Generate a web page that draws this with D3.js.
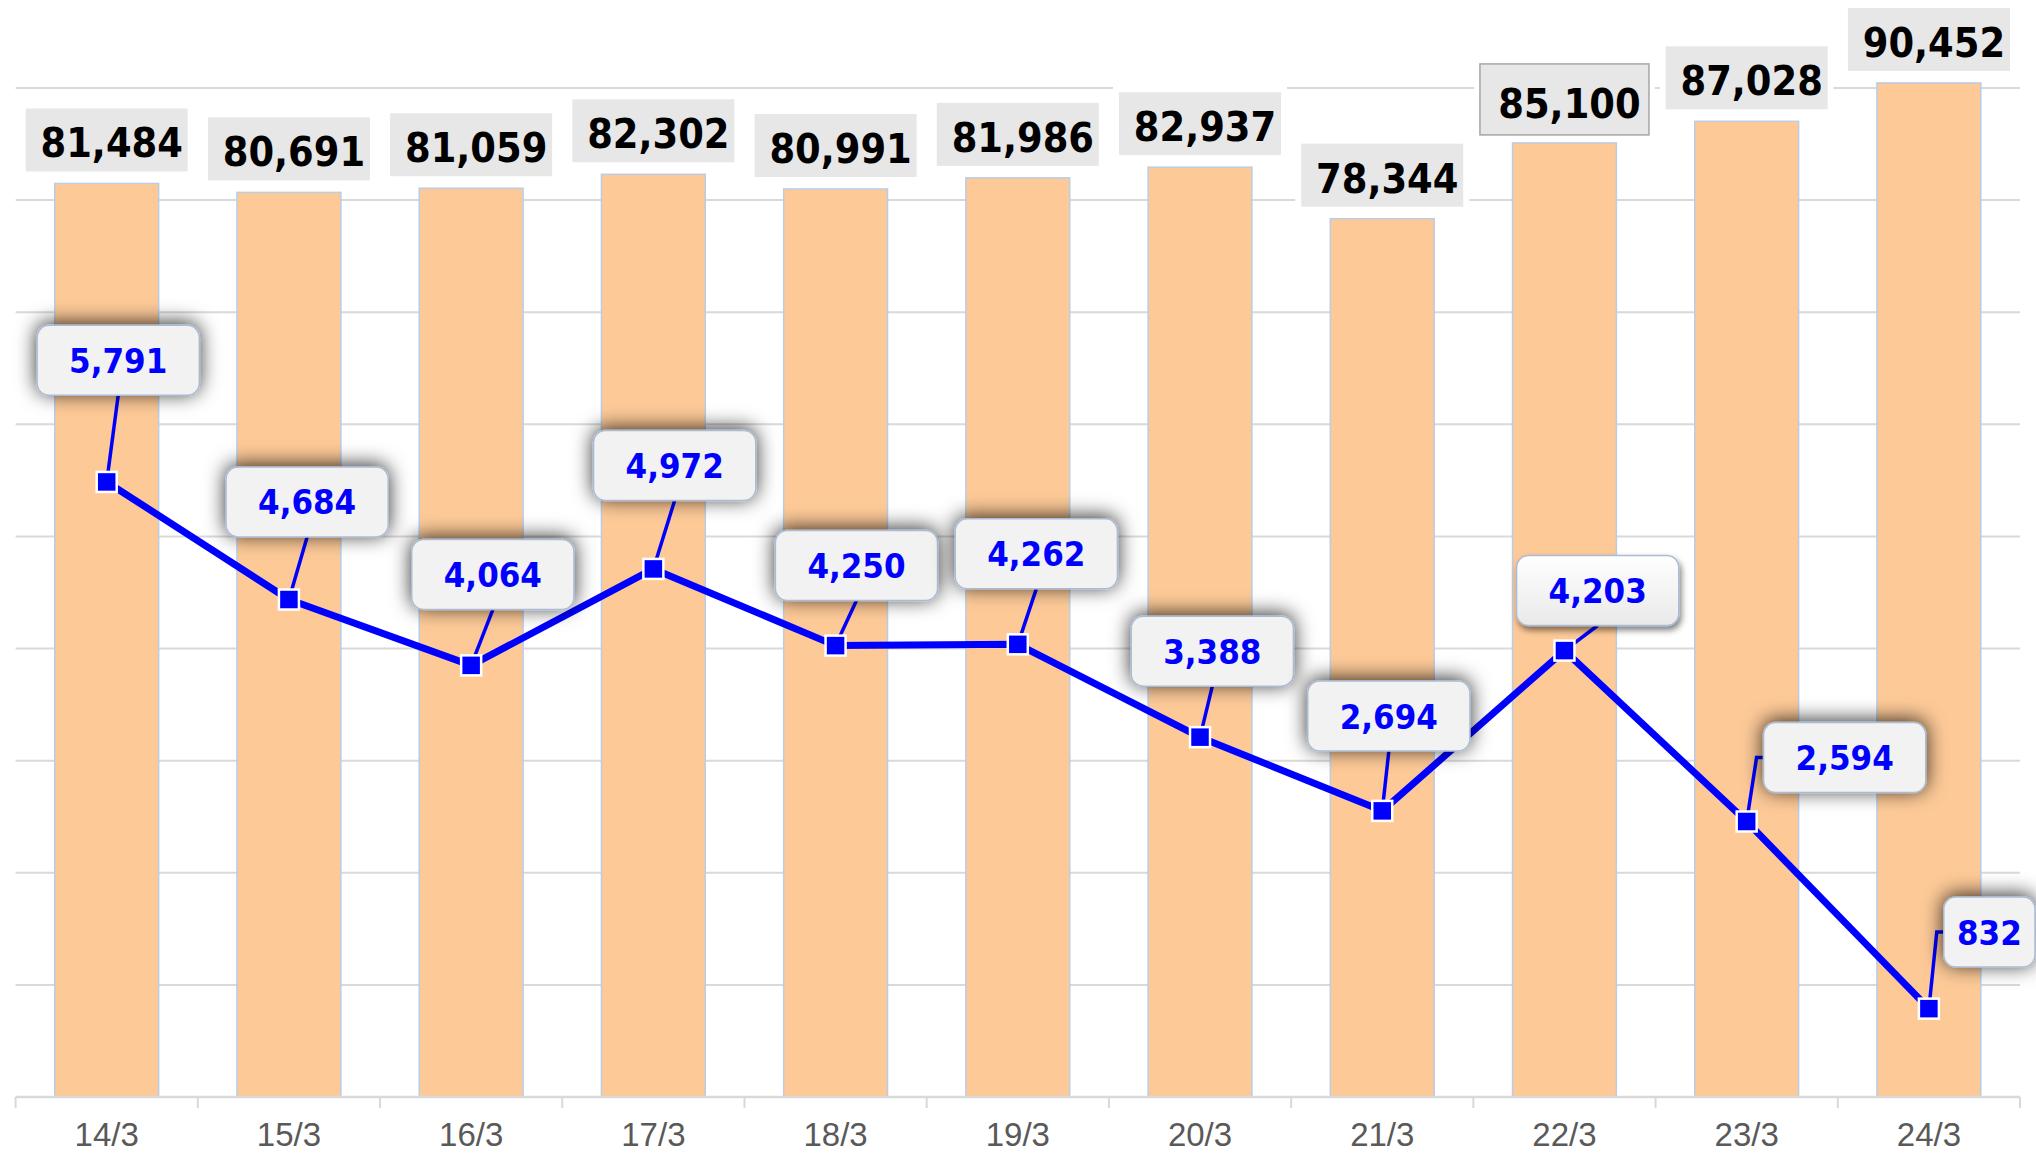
<!DOCTYPE html>
<html>
<head>
<meta charset="utf-8">
<script src="https://cdn.jsdelivr.net/npm/d3@7"></script>
<style>
  html, body { margin: 0; padding: 0; background: #fff; }
  svg { display: block; }
  .big { font-family: "DejaVu Sans Condensed", "DejaVu Sans", sans-serif; font-stretch: condensed; font-weight: bold; }
  .tick-label { font-family: "Liberation Sans", Arial, sans-serif; }
</style>
</head>
<body>
<svg id="chart"></svg>
<script>
// data
const CATEGORIES = ['14/3', '15/3', '16/3', '17/3', '18/3', '19/3', '20/3', '21/3', '22/3', '23/3', '24/3'];
const TOTALS = [81484, 80691, 81059, 82302, 80991, 81986, 82937, 78344, 85100, 87028, 90452];
const CHANGES = [5791, 4684, 4064, 4972, 4250, 4262, 3388, 2694, 4203, 2594, 832];

// where each line label box sits, relative to its point (layout only)
const LABEL_OFFSETS = [
  [11.5, -121.6], [18.2, -97.6], [21.7, -90.8], [21.3, -103.5], [20.9, -80.1], [18.5, -90.5],
  [12.3, -86.0], [6.6, -94.8], [33.2, -60.1], [98, -63.9], [79.3, -76.6]
];
const SELECTED = 8; // 22/3 labels look "selected" in the original

const WIDTH = 2036;
const HEIGHT = 1161;
const PLOT = {left: 15.6, right: 2020, top: 88, bottom: 1097};

const fmt = d3.format(',');

const svg = d3.select('#chart')
  .attr('width', WIDTH)
  .attr('height', HEIGHT);

const defs = svg.append('defs');
defs.append('filter')
  .attr('id', 'glow')
  .attr('x', '-40%').attr('y', '-80%').attr('width', '180%').attr('height', '260%')
  .append('feDropShadow')
  .attr('dx', 0).attr('dy', -2)
  .attr('stdDeviation', 10)
  .attr('flood-color', '#000')
  .attr('flood-opacity', 0.8);

defs.append('filter')
  .attr('id', 'bevel')
  .attr('x', '-30%').attr('y', '-50%').attr('width', '160%').attr('height', '200%')
  .append('feDropShadow')
  .attr('dx', 2).attr('dy', 4)
  .attr('stdDeviation', 3)
  .attr('flood-color', '#000')
  .attr('flood-opacity', 0.5);

const grad = defs.append('linearGradient')
  .attr('id', 'selGrad')
  .attr('x1', 0).attr('y1', 0).attr('x2', 0).attr('y2', 1);
grad.append('stop').attr('offset', '0%').attr('stop-color', '#ffffff');
grad.append('stop').attr('offset', '100%').attr('stop-color', '#e9e9e9');

//scales
const x = d3.scaleBand().domain(CATEGORIES).range([PLOT.left, PLOT.right]);
const barW = x.bandwidth() * 0.57;
const yBar = d3.scaleLinear().domain([0, 90000]).range([PLOT.bottom, PLOT.top]);
const yLine = d3.scaleLinear().domain([0, 9500]).range([PLOT.bottom, PLOT.top]);

const cx = (d) => x(d) + x.bandwidth() / 2;

//gridlines
svg.append('g')
  .selectAll('line')
  .data(yBar.ticks(9).filter(t => t > 0))
  .enter()
  .append('line')
  .attr('x1', PLOT.left)
  .attr('x2', PLOT.right)
  .attr('y1', d => yBar(d))
  .attr('y2', d => yBar(d))
  .attr('stroke', '#d9d9d9')
  .attr('stroke-width', 2);

//bars
svg.append('g')
  .selectAll('rect')
  .data(TOTALS)
  .enter()
  .append('rect')
  .attr('x', (d, i) => cx(CATEGORIES[i]) - barW / 2)
  .attr('y', d => yBar(d))
  .attr('width', barW)
  .attr('height', d => PLOT.bottom - yBar(d))
  .attr('fill', '#fdc997')
  .attr('stroke', '#b9cde6')
  .attr('stroke-width', 1.5);

//x axis
const axis = svg.append('g')
  .attr('transform', `translate(0, ${PLOT.bottom})`)
  .call(d3.axisBottom(x).tickSize(0).tickPadding(26));
axis.select('.domain').remove();
axis.selectAll('text')
  .attr('class', 'tick-label')
  .attr('font-size', 33)
  .attr('fill', '#595959');

svg.append('line')
  .attr('x1', PLOT.left).attr('x2', PLOT.right)
  .attr('y1', PLOT.bottom).attr('y2', PLOT.bottom)
  .attr('stroke', '#d9d9d9').attr('stroke-width', 2.5);

svg.append('g')
  .selectAll('line')
  .data(CATEGORIES.map(c => x(c)).concat([PLOT.right]))
  .enter()
  .append('line')
  .attr('x1', d => d).attr('x2', d => d)
  .attr('y1', PLOT.bottom).attr('y2', PLOT.bottom + 11)
  .attr('stroke', '#d9d9d9').attr('stroke-width', 2);

//bar labels (gray boxes)
const barLabels = svg.append('g')
  .selectAll('g')
  .data(TOTALS)
  .enter()
  .append('g');

barLabels.each(function (d, i) {
  const g = d3.select(this);
  const sel = i === SELECTED;
  const bw = sel ? 169 : 162;
  const bh = sel ? 71 : 63;
  const bx = cx(CATEGORIES[i]) - bw / 2;
  const bottom = yBar(d) - (sel ? 8 : 12);
  // white margin so the gridline breaks around the box
  g.append('rect')
    .attr('x', bx - 6).attr('y', bottom - bh - 6)
    .attr('width', bw + 12).attr('height', bh + 12)
    .attr('fill', '#fff');
  g.append('rect')
    .attr('x', bx).attr('y', bottom - bh)
    .attr('width', bw).attr('height', bh)
    .attr('fill', '#e7e7e7')
    .attr('stroke', sel ? '#a6a6a6' : 'none')
    .attr('stroke-width', 1.5);
  g.append('text')
    .attr('class', 'big')
    .attr('x', bx + bw / 2 + 5)
    .attr('y', bottom - (sel ? 17 : 14))
    .attr('text-anchor', 'middle')
    .attr('font-size', 41)
    .attr('fill', '#000')
    .text(fmt(d));
});

//line
const points = CHANGES.map((v, i) => [cx(CATEGORIES[i]), yLine(v)]);

svg.append('path')
  .datum(CHANGES)
  .attr('d', d3.line().x((d, i) => cx(CATEGORIES[i])).y(d => yLine(d)))
  .attr('fill', 'none')
  .attr('stroke', '#0000ff')
  .attr('stroke-width', 7)
  .attr('stroke-linejoin', 'round');

//label boxes for the line, with leader lines
const leaders = svg.append('g');
const markers = svg.append('g');
const boxes = svg.append('g');

markers.selectAll('rect')
  .data(CHANGES)
  .enter()
  .append('rect')
  .attr('x', (d, i) => cx(CATEGORIES[i]) - 10)
  .attr('y', d => yLine(d) - 10)
  .attr('width', 20)
  .attr('height', 20)
  .attr('fill', '#0000ff')
  .attr('stroke', '#fff')
  .attr('stroke-width', 2.5);

CHANGES.forEach((v, i) => {
  const [px, py] = points[i];
  const g = boxes.append('g');
  const sel = i === SELECTED;
  const t = g.append('text')
    .attr('class', 'big')
    .attr('font-size', 34.5)
    .attr('fill', '#0000ff')
    .attr('text-anchor', 'middle')
    .text(fmt(v));
  const tw = t.node().getComputedTextLength();
  const bw = tw + 64;
  const bh = 70;
  const bcx = px + LABEL_OFFSETS[i][0];
  const bcy = py + LABEL_OFFSETS[i][1];
  let left = bcx - bw / 2;
  let right = Math.min(bcx + bw / 2, WIDTH - 1);
  const top = bcy - bh / 2;

  g.insert('rect', 'text')
    .attr('x', left).attr('y', top)
    .attr('width', right - left).attr('height', bh)
    .attr('rx', 12).attr('ry', 12)
    .attr('fill', sel ? 'url(#selGrad)' : '#f2f2f2')
    .attr('stroke', '#a9bcd4')
    .attr('stroke-width', 1.5)
    .attr('filter', sel ? 'url(#bevel)' : 'url(#glow)');
  t.attr('x', (left + right) / 2).attr('y', bcy + 12.5);

  // leader line: to bottom middle, or to the left side when the box sits off to the right
  let d;
  if (px < left) {
    d = `M${px},${py}L${left - 7},${bcy}L${left},${bcy}`;
  } else {
    d = `M${px},${py}L${bcx},${top + bh}`;
  }
  leaders.append('path')
    .attr('d', d)
    .attr('fill', 'none')
    .attr('stroke', '#0000ff')
    .attr('stroke-width', 3.5);
});
</script>
</body>
</html>
